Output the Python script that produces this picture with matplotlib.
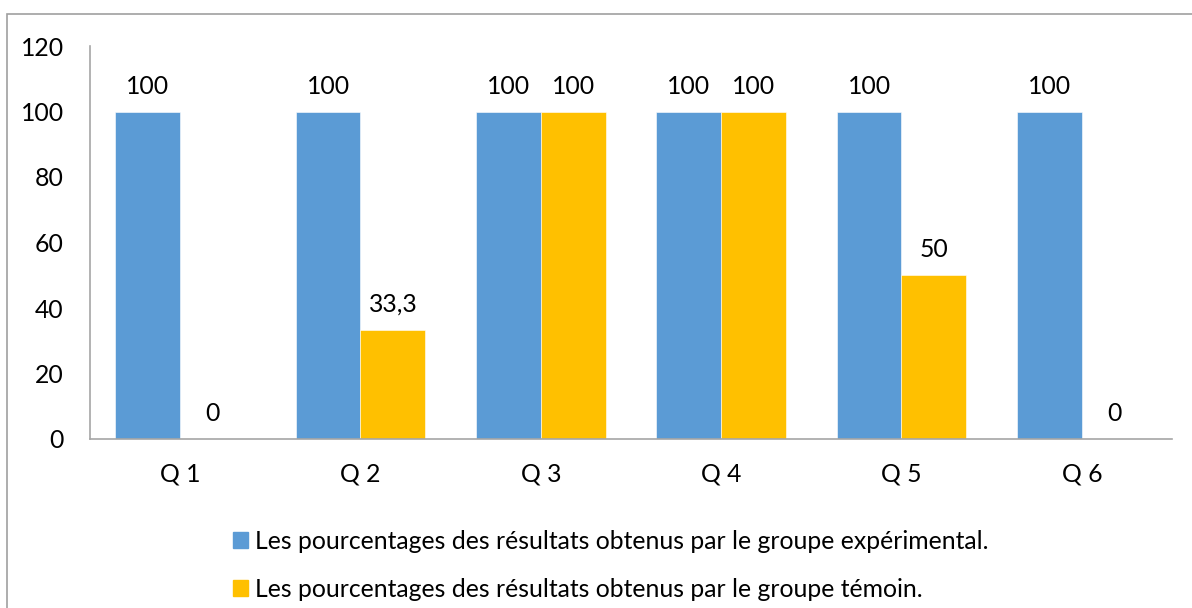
import numpy as np
import matplotlib
matplotlib.use('Agg')
from matplotlib import pyplot as plt
from matplotlib.patches import Patch, Rectangle

plt.rcParams['font.family'] = ['Lato', 'DejaVu Sans']

# donnees du graphique
categories = ['Q 1', 'Q 2', 'Q 3', 'Q 4', 'Q 5', 'Q 6']
experimental = [100, 100, 100, 100, 100, 100]
temoin = [0, 33.3, 100, 100, 50, 0]
y_ticks = [0, 20, 40, 60, 80, 100, 120]
legend_labels = ['Les pourcentages des résultats obtenus par le groupe expérimental.',
                 'Les pourcentages des résultats obtenus par le groupe témoin.']

blue = '#5B9BD5'
yellow = '#FFC000'
fs = 17.8

W, H = 1192, 608
fig = plt.figure(figsize=(W / 100, H / 100), dpi=100)
ax = fig.add_axes([90 / W, (H - 439) / H, (1172 - 90) / W, (439 - 46) / H])

x = np.arange(len(categories))
w = 0.36
b1 = ax.bar(x - w / 2, experimental, w, color=blue, edgecolor='white', linewidth=0.4)
b2 = ax.bar(x + w / 2, temoin, w, color=yellow, edgecolor='white', linewidth=0.4)

def fmt(v):
    s = ('%g' % v)
    return s.replace('.', ',')

for bars, vals in ((b1, experimental), (b2, temoin)):
    for r, v in zip(bars, vals):
        ax.annotate(fmt(v), (r.get_x() + r.get_width() / 2, v),
                    xytext=(0, 18), textcoords='offset pixels',
                    ha='center', va='baseline', fontsize=fs)

ax.set_xlim(-0.5, len(categories) - 0.5)
ax.set_ylim(0, 120)
ax.set_yticks(y_ticks)
ax.set_xticks(x)
ax.set_xticklabels(categories)
ax.tick_params(axis='y', length=0, pad=19, labelsize=fs)
ax.tick_params(axis='x', length=0, pad=17, labelsize=fs)
for s in ('top', 'right'):
    ax.spines[s].set_visible(False)
for s in ('left', 'bottom'):
    ax.spines[s].set_color('#A6A6A6')
    ax.spines[s].set_linewidth(1.2)

handles = [Patch(color=blue), Patch(color=yellow)]
fig.legend(handles, legend_labels, loc='upper left',
           bbox_to_anchor=(223 / W, (H - 520) / H), frameon=False,
           fontsize=fs, handlelength=0.6, handleheight=0.6,
           handletextpad=0.3, labelspacing=1.0, borderaxespad=0)

# cadre autour du graphique
fig.add_artist(Rectangle((7 / W, -0.1), 1.2, (H - 14) / H + 0.1,
                         transform=fig.transFigure, fill=False,
                         edgecolor='#A0A0A0', linewidth=1.2))

fig.savefig('out.png', dpi=100)
